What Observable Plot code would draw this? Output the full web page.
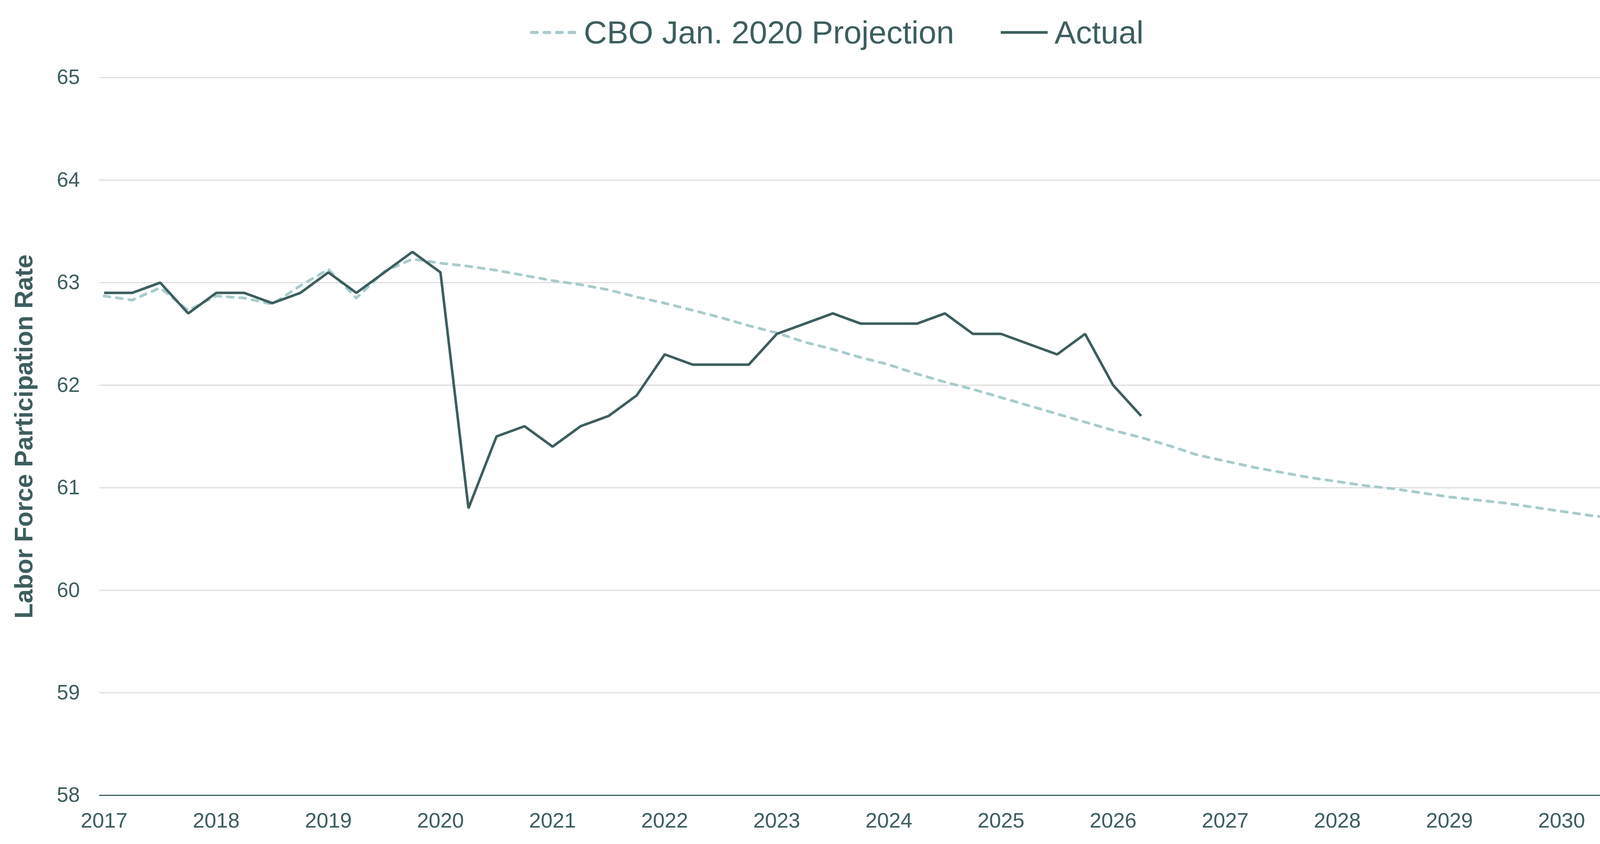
<!DOCTYPE html>
<html>
<head>
<meta charset="utf-8">
<script src="https://cdn.jsdelivr.net/npm/d3@7"></script>
<script src="https://cdn.jsdelivr.net/npm/@observablehq/plot@0.6"></script>
<style>
  html, body { margin: 0; padding: 0; background: #ffffff; }
  body { width: 4282px; height: 2160px; overflow: hidden; font-family: "Liberation Sans", Arial, sans-serif; color: #3d5e5e; }
  #legend { height: 166px; display: flex; justify-content: center; align-items: center; font-size: 82px; }
  .item { display: flex; align-items: center; }
  .item svg { margin-right: 16px; }
  .gap { width: 117px; }
</style>
</head>
<body>
<div id="legend"></div>
<div id="chart"></div>
<script>
// ---- Data ----
const years = [2017, 2018, 2019, 2020, 2021, 2022, 2023, 2024, 2025, 2026, 2027, 2028, 2029, 2030];
const quarterOffsets = [0, 0.25, 0.5, 0.75];
const yTicks = [58, 59, 60, 61, 62, 63, 64, 65];

const seriesNames = ["CBO Jan. 2020 Projection", "Actual"];

// Actual labor force participation rate, quarterly 2017Q1 - 2026Q2
const actualValues = [
  62.9, 62.9, 63.0, 62.7,
  62.9, 62.9, 62.8, 62.9,
  63.1, 62.9, 63.1, 63.3,
  63.1, 60.8, 61.5, 61.6,
  61.4, 61.6, 61.7, 61.9,
  62.3, 62.2, 62.2, 62.2,
  62.5, 62.6, 62.7, 62.6,
  62.6, 62.6, 62.7, 62.5,
  62.5, 62.4, 62.3, 62.5,
  62.0, 61.7
];

// CBO January 2020 projection, quarterly 2017Q1 - 2030Q4
const projectionValues = [
  62.87, 62.83, 62.95, 62.73,
  62.87, 62.85, 62.79, 62.97,
  63.13, 62.85, 63.11, 63.23,
  63.19, 63.16, 63.12, 63.07,
  63.02, 62.98, 62.93, 62.86,
  62.80, 62.73, 62.66, 62.58,
  62.51, 62.42, 62.35, 62.27,
  62.20, 62.11, 62.03, 61.96,
  61.88, 61.80, 61.72, 61.64,
  61.56, 61.49, 61.41, 61.32,
  61.26, 61.20, 61.15, 61.10,
  61.06, 61.02, 60.99, 60.95,
  60.91, 60.88, 60.85, 60.81,
  60.77, 60.73, 60.70, 60.66
];

// ---- Build tables ----
const quarters = years.flatMap(y => quarterOffsets.map(q => y + q));
const actual = actualValues.map((v, i) => ({t: quarters[i], v}));
const projection = projectionValues.map((v, i) => ({t: quarters[i], v}));

const dark = "#3d5e5e";
const light = "#a8cbcb";
const grid = "#d9d9d9";
const font = "'Liberation Sans', Arial, sans-serif";

// ---- Legend ----
const legend = document.getElementById("legend");
function swatch(dashed) {
  const ns = "http://www.w3.org/2000/svg";
  const s = document.createElementNS(ns, "svg");
  s.setAttribute("width", 124); s.setAttribute("height", 20);
  const l = document.createElementNS(ns, "line");
  l.setAttribute("x1", dashed ? 6 : 2); l.setAttribute("x2", dashed ? 120 : 122);
  l.setAttribute("y1", 10); l.setAttribute("y2", 10);
  l.setAttribute("stroke", dashed ? light : dark);
  l.setAttribute("stroke-width", dashed ? 8 : 7);
  if (dashed) { l.setAttribute("stroke-dasharray", "14 18"); l.setAttribute("stroke-linecap", "round"); }
  s.appendChild(l);
  return s;
}
seriesNames.forEach((name, i) => {
  if (i > 0) { const g = document.createElement("div"); g.className = "gap"; legend.appendChild(g); }
  const it = document.createElement("div"); it.className = "item";
  it.appendChild(swatch(i === 0));
  const sp = document.createElement("span"); sp.textContent = name;
  it.appendChild(sp);
  legend.appendChild(it);
});

// ---- Chart ----
const chart = Plot.plot({
  width: 4282,
  height: 1994,
  marginTop: 32,
  marginBottom: 125,
  marginLeft: 254,
  marginRight: 51,
  style: {fontFamily: font, fontSize: "54px", color: dark, background: "#ffffff", overflow: "visible"},
  x: {domain: [2016.958, 2030.815], label: null},
  y: {domain: [58, 65], label: null},
  marks: [
    Plot.gridY(yTicks.filter(d => d > 58), {stroke: grid, strokeOpacity: 1, strokeWidth: 2.5}),
    Plot.ruleY([58], {stroke: dark, strokeWidth: 3}),
    Plot.axisX({ticks: years, tickFormat: d => String(d), tickSize: 0, tickPadding: 44, fontSize: 54, fill: dark, label: null}),
    Plot.axisY({ticks: yTicks, tickFormat: d => String(d), tickSize: 0, tickPadding: 50, fontSize: 53, fill: dark, label: null}),
    Plot.line(projection, {x: "t", y: "v", stroke: light, strokeWidth: 7, strokeDasharray: "15,17", strokeLinecap: "round", strokeLinejoin: "round"}),
    Plot.line(actual, {x: "t", y: "v", stroke: dark, strokeWidth: 6.5, strokeLinejoin: "miter", strokeLinecap: "butt"}),
    Plot.text(["Labor Force Participation Rate"], {frameAnchor: "left", textAnchor: "middle", lineAnchor: "middle", dx: -192, rotate: -90, fontSize: 64, fontWeight: "bold", fill: dark, fontFamily: font})
  ]
});
document.getElementById("chart").appendChild(chart);
</script>
</body>
</html>
